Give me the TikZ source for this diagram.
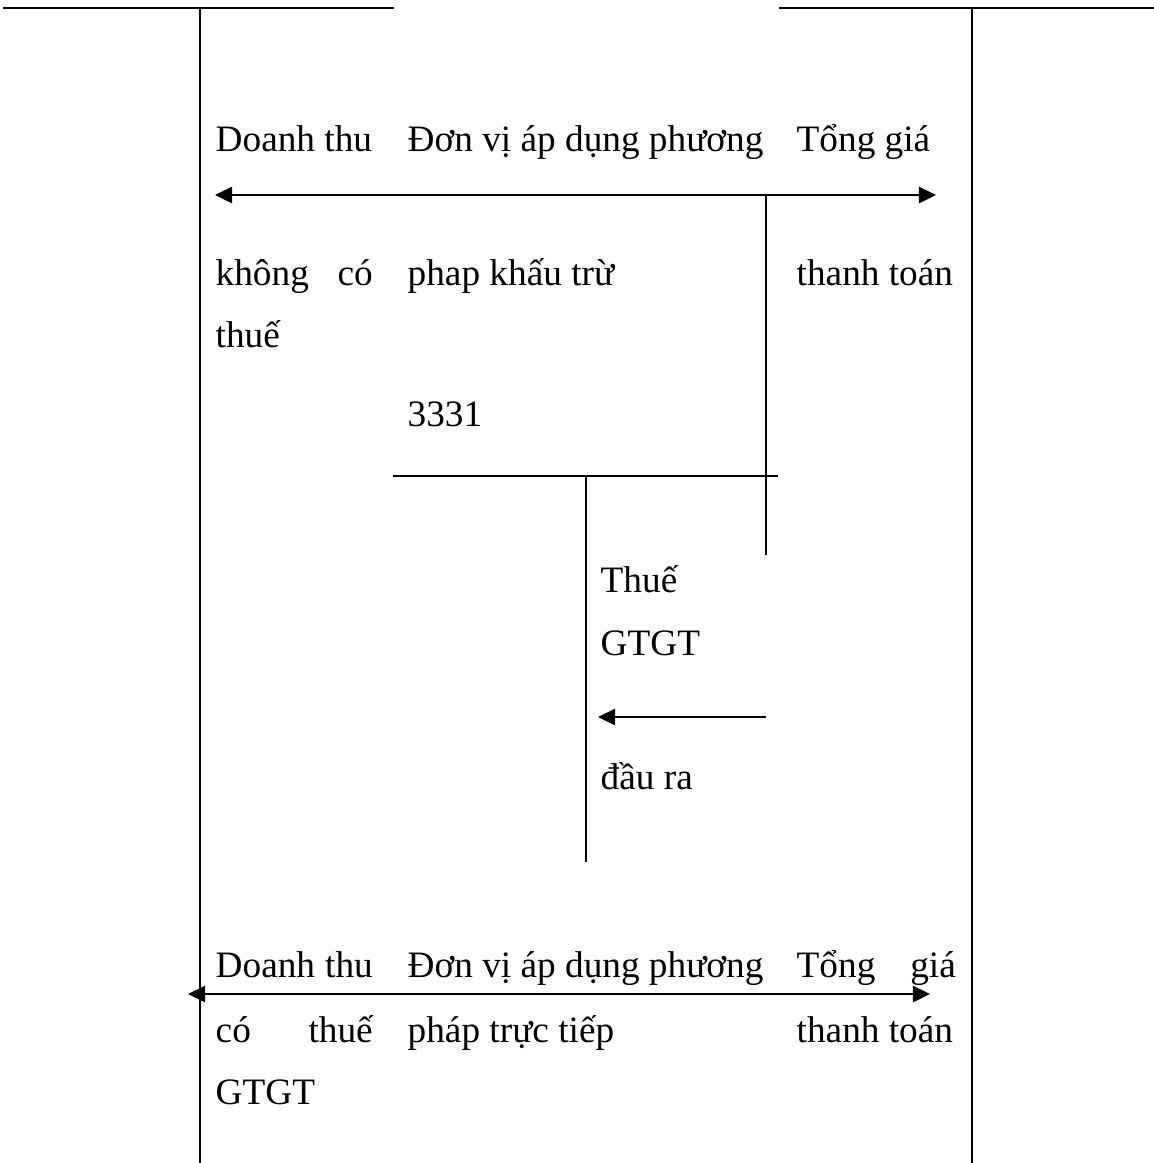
\documentclass[tikz,border=0pt]{standalone}
\usepackage{fontspec}
\setmainfont{Liberation Serif}
\usepackage{tikz}
\usetikzlibrary{arrows.meta, positioning}

\begin{document}
\begin{tikzpicture}[
                x=0.01cm, y=-0.01cm,
                every node/.style={inner sep=0pt, anchor=base west, font=\fontsize{10.6pt}{12pt}\selectfont},
                rule/.style={line width=0.7pt},
                arrow/.style={line width=0.7pt, -{Triangle[length=0.17cm, width=0.16cm]}},
                twoway/.style={line width=0.7pt, {Triangle[length=0.17cm, width=0.16cm]}-{Triangle[length=0.17cm, width=0.16cm]}}]

            \useasboundingbox (0,0) rectangle (1154,1163);

            % Khung
            \coordinate (tl1) at (3,8);    \coordinate (tl2) at (394,8);
            \coordinate (tr1) at (779,8);  \coordinate (tr2) at (1154,8);
            \coordinate (lb1) at (200,8);  \coordinate (lb2) at (200,1163);
            \coordinate (rb1) at (972,8);  \coordinate (rb2) at (972,1163);
            \draw[rule, line width=0.8pt] (tl1) -- (tl2);
            \draw[rule, line width=0.8pt] (tr1) -- (tr2);
            \draw[rule] (lb1) -- (lb2);
            \draw[rule] (rb1) -- (rb2);

            % Khau tru
            \node (dt1) at (215,151) {Doanh thu};
            \node (dv1) at (407,151) {Đơn vị áp dụng phương};
            \node (tg1) at (796,151) {Tổng giá};
            \coordinate (a1l) at (215,195); \coordinate (a1r) at (936,195);
            \draw[twoway] (a1r) -- (a1l);
            \node (kc) at (215,285) {\makebox[1.57cm][s]{không có}};
            \node (pk) at (407,285) {phap khấu trừ};
            \node (tt1) at (796,285) {thanh toán};
            \node (th1) at (215,347) {thuế};

            % TK 3331
            \node (tk) at (407,426) {3331};
            \coordinate (h1) at (393,476); \coordinate (h2) at (778,476);
            \draw[rule] (h1) -- (h2);
            \coordinate (v1) at (586,476); \coordinate (v2) at (586,862);
            \draw[rule] (v1) -- (v2);
            \coordinate (w1) at (766,195); \coordinate (w2) at (766,555);
            \draw[rule] (w1) -- (w2);
            \node (thue) at (600,592) {Thuế};
            \node (gt1) at (600,655) {GTGT};
            \coordinate (a2r) at (766,717); \coordinate (a2l) at (598,717);
            \draw[arrow] (a2r) -- (a2l);
            \node (dr) at (600,789) {đầu ra};

            % Truc tiep
            \node (dt2) at (215,977) {\makebox[1.57cm][s]{Doanh thu}};
            \node (dv2) at (407,977) {Đơn vị áp dụng phương};
            \node (tg2) at (796,977) {\makebox[1.59cm][s]{Tổng giá}};
            \coordinate (a3l) at (188,994); \coordinate (a3r) at (930,994);
            \draw[twoway] (a3l) -- (a3r);
            \node (ct) at (215,1042) {\makebox[1.57cm][s]{có thuế}};
            \node (ptt) at (407,1042) {pháp trực tiếp};
            \node (tt2) at (796,1042) {thanh toán};
            \node (gt2) at (215,1104) {GTGT};

        \end{tikzpicture}
\end{document}
